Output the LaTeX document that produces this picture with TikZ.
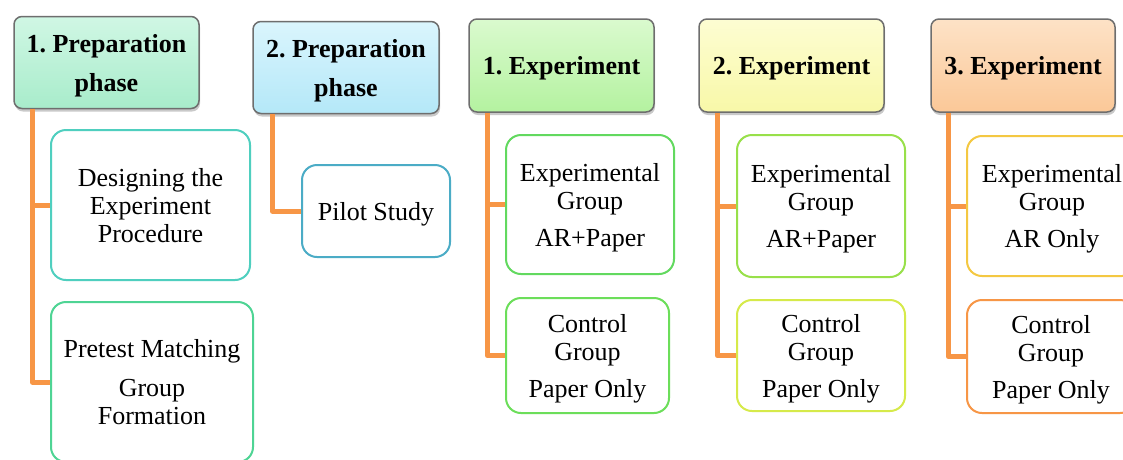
\documentclass[tikz,border=0pt]{standalone}
\usepackage{fontspec}
\setmainfont{Liberation Serif}
\usetikzlibrary{shadows}

\definecolor{linkorange}{HTML}{F79646}
\definecolor{headborder}{HTML}{6E6E6E}

\tikzset{
  phasebox/.style={draw=headborder, line width=1.5pt, rounded corners=8pt,
    minimum width=185pt, minimum height=92pt, inner sep=0pt, align=center,
    text depth=0pt, font=\fontsize{26}{39}\selectfont\bfseries\frenchspacing,
    drop shadow={shadow xshift=1pt, shadow yshift=-3pt, opacity=0.35, fill=black!60}},
  itembox/.style={draw, fill=white, line width=2pt, rounded corners=15pt,
    inner sep=0pt, align=center, text depth=0pt,
    font=\fontsize{26}{28}\selectfont\frenchspacing},
  link/.style={draw=linkorange, line width=5pt, line join=round}
}

\begin{document}
\begin{tikzpicture}[x=1pt,y=-1pt]
\useasboundingbox (0,0) rectangle (1123,459);
\clip (0,0) rectangle (1123,459);
\fill[white] (0,0) rectangle (1123,459);

% phase headers
\node[phasebox, top color={rgb,255:red,208;green,247;blue,228}, bottom color={rgb,255:red,168;green,236;blue,203}]
  (h1) at (106.5,62.5) {1. Preparation\\phase};
\node[phasebox, minimum width=186pt, top color={rgb,255:red,218;green,245;blue,253}, bottom color={rgb,255:red,180;green,232;blue,248}]
  (h2) at (346,67.5) {2. Preparation\\phase};
\node[phasebox, minimum height=93pt, top color={rgb,255:red,218;green,250;blue,206}, bottom color={rgb,255:red,180;green,242;blue,160}]
  (h3) at (561.5,65.5) {1. Experiment};
\node[phasebox, minimum height=93pt, top color={rgb,255:red,253;green,253;blue,210}, bottom color={rgb,255:red,248;green,248;blue,168}]
  (h4) at (791.5,65.5) {2. Experiment};
\node[phasebox, minimum width=184pt, minimum height=93pt, top color={rgb,255:red,253;green,226;blue,198}, bottom color={rgb,255:red,251;green,200;blue,152}]
  (h5) at (1023,65.5) {3. Experiment};

% steps under each phase
\node[itembox, draw={rgb,255:red,79;green,207;blue,191}, minimum width=199pt, minimum height=150pt]
  (c1a) at (150.5,205) {Designing the\\Experiment\\Procedure};
\node[itembox, draw={rgb,255:red,78;green,212;blue,148}, minimum width=202pt, minimum height=160pt]
  (c1b) at (152,382) {Pretest Matching\\[11pt]Group\\Formation};
\node[itembox, draw={rgb,255:red,75;green,172;blue,198}, minimum width=148pt, minimum height=92pt]
  (c2) at (376,211) {Pilot Study};
\node[itembox, draw={rgb,255:red,98;green,217;blue,95}, minimum width=168pt, minimum height=139pt]
  (c3a) at (590,204.5) {Experimental\\Group\\[9pt]AR+Paper};
\node[itembox, draw={rgb,255:red,108;green,222;blue,90}, minimum width=163pt, minimum height=115pt]
  (c3b) at (587.5,355.5) {Control\\Group\\[9pt]Paper Only};
\node[itembox, draw={rgb,255:red,152;green,224;blue,74}, minimum width=168pt, minimum height=142pt]
  (c4a) at (821,206) {Experimental\\Group\\[9pt]AR+Paper};
\node[itembox, draw={rgb,255:red,214;green,234;blue,74}, minimum width=168pt, minimum height=111pt]
  (c4b) at (821,355.5) {Control\\Group\\[9pt]Paper Only};
\node[itembox, draw={rgb,255:red,244;green,200;blue,66}, minimum width=170pt, minimum height=140pt]
  (c5a) at (1052,206) {Experimental\\Group\\[9pt]AR Only};
\node[itembox, draw=linkorange, minimum width=168pt, minimum height=113pt]
  (c5b) at (1051,356.5) {Control\\Group\\[9pt]Paper Only};

% connectors
\draw[link] ([xshift=19pt]h1.south west) |- (c1a.west);
\draw[link] ([xshift=19pt]h1.south west) |- (c1b.west);
\draw[link] ([xshift=20pt]h2.south west) |- (c2.west);
\draw[link] ([xshift=19pt]h3.south west) |- (c3a.west);
\draw[link] ([xshift=19pt]h3.south west) |- (c3b.west);
\draw[link] ([xshift=19pt]h4.south west) |- (c4a.west);
\draw[link] ([xshift=19pt]h4.south west) |- (c4b.west);
\draw[link] ([xshift=18pt]h5.south west) |- (c5a.west);
\draw[link] ([xshift=18pt]h5.south west) |- (c5b.west);
\end{tikzpicture}
\end{document}
